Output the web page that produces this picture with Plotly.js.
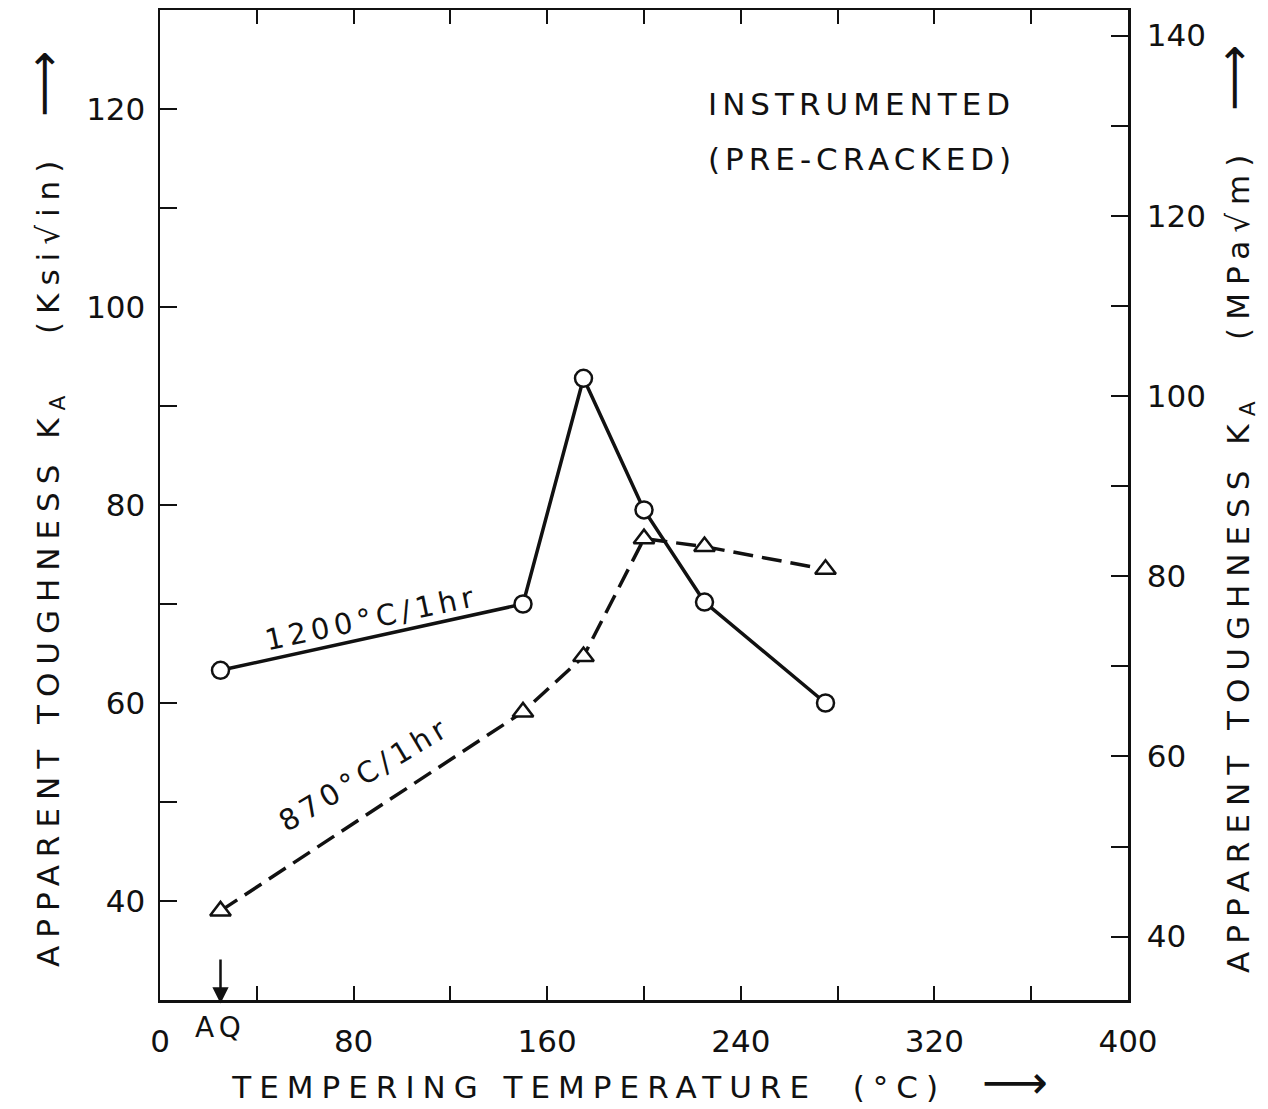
<!DOCTYPE html>
<html><head><meta charset="utf-8">
<script src="https://cdn.plot.ly/plotly-3.0.1.min.js"></script>
<style>
body{margin:0;background:#fff}
.xtitle,.ytitle,.y2title{letter-spacing:8px}
.annotation-text{letter-spacing:5px}
</style></head><body><div id="chart" style="width:1268px;height:1109px"></div>
<script>
const temps1200 = [25, 150, 175, 200, 225, 275];
const toughness1200 = [63.3, 70.0, 92.8, 79.5, 70.2, 60.0];
const temps870 = [25, 150, 175, 200, 225, 275];
const toughness870 = [39.0, 59.1, 64.7, 76.6, 75.8, 73.5];
const xRange = [0, 400];
const ksiRange = [30, 130];
const ksiToMPa = 1.0988;
const mpaRange = ksiRange.map(v => v * ksiToMPa);
const aqTemp = 25;

const F = 'DejaVu Sans';
const black = '#111';
const ARROW = '<span style="font-size:46px">⟶</span>';

const traces = [
  {x: temps1200, y: toughness1200, mode: 'lines+markers', name: '1200°C/1hr',
   line: {color: black, width: 3.5},
   marker: {symbol: 'circle', size: 17, color: '#fff', line: {color: black, width: 2.5}}},
  {x: temps870, y: toughness870, mode: 'lines+markers', name: '870°C/1hr',
   line: {color: black, width: 3.5, dash: '20px,9px'},
   marker: {symbol: 'triangle-up', size: 18, color: '#fff', line: {color: black, width: 2.5}}},
  // same 1200°C series expressed in MPa√m on the right axis (draws nothing; anchors the right scale)
  {x: temps1200, y: toughness1200.map(v => v * ksiToMPa), yaxis: 'y2', mode: 'none',
   name: '1200°C/1hr (MPa√m)', hoverinfo: 'skip'}
];

const axCommon = {showgrid: false, zeroline: false, showline: true, linecolor: black, linewidth: 2.5,
  ticks: 'inside', tickcolor: black, tickwidth: 2, tickfont: {family: F, size: 31, color: black}};

const layout = {
  width: 1268, height: 1109,
  margin: {l: 160, r: 140, t: 10, b: 109},
  paper_bgcolor: '#fff', plot_bgcolor: '#fff',
  showlegend: false,
  font: {family: F, color: black},
  xaxis: Object.assign({}, axCommon, {
    range: xRange, tick0: 0, dtick: 80, ticklen: 14, mirror: 'ticks',
    minor: {dtick: 40, ticks: 'inside', ticklen: 14, tickwidth: 2, tickcolor: black},
    ticklabelstandoff: 12,
    title: {text: 'TEMPERING TEMPERATURE  (°C)  ' + ARROW, font: {family: F, size: 31, color: black}, standoff: 10}
  }),
  yaxis: Object.assign({}, axCommon, {
    range: ksiRange, tick0: 0, dtick: 20, ticklen: 17,
    minor: {dtick: 10, ticks: 'inside', ticklen: 17, tickwidth: 2, tickcolor: black},
    ticklabelstandoff: 6,
    title: {text: 'APPARENT TOUGHNESS K<sub>A</sub>   (Ksi√in)  ' + ARROW, font: {family: F, size: 31, color: black}, standoff: 18}
  }),
  yaxis2: Object.assign({}, axCommon, {
    overlaying: 'y', side: 'right', anchor: 'x',
    range: mpaRange, tick0: 0, dtick: 20, ticklen: 17,
    minor: {dtick: 10, ticks: 'inside', ticklen: 17, tickwidth: 2, tickcolor: black},
    ticklabelstandoff: 10,
    title: {text: 'APPARENT TOUGHNESS K<sub>A</sub>   (MPa√m)  ' + ARROW, font: {family: F, size: 31, color: black}, standoff: 16}
  }),
  annotations: [
    {x: 290, y: 120.5, xref: 'x', yref: 'y', text: 'INSTRUMENTED', showarrow: false, font: {family: F, size: 31, color: black}},
    {x: 290, y: 115, xref: 'x', yref: 'y', text: '(PRE-CRACKED)', showarrow: false, font: {family: F, size: 31, color: black}},
    {x: 87.6, y: 68.6, xref: 'x', yref: 'y', text: '1200°C/1hr', textangle: -12, showarrow: false, font: {family: F, size: 29, color: black}},
    {x: 84.7, y: 52.8, xref: 'x', yref: 'y', text: '870°C/1hr', textangle: -31, showarrow: false, font: {family: F, size: 29, color: black}},
    {x: aqTemp, y: 34.1, xref: 'x', yref: 'y', text: 'AQ', showarrow: true, ax: 0, ay: 68,
     arrowside: 'start', startarrowhead: 2, startarrowsize: 1.3, arrowwidth: 2.5, arrowcolor: black,
     startstandoff: 6, font: {family: F, size: 28, color: black}}
  ]
};

Plotly.newPlot('chart', traces, layout, {displayModeBar: false, staticPlot: true});
</script></body></html>
